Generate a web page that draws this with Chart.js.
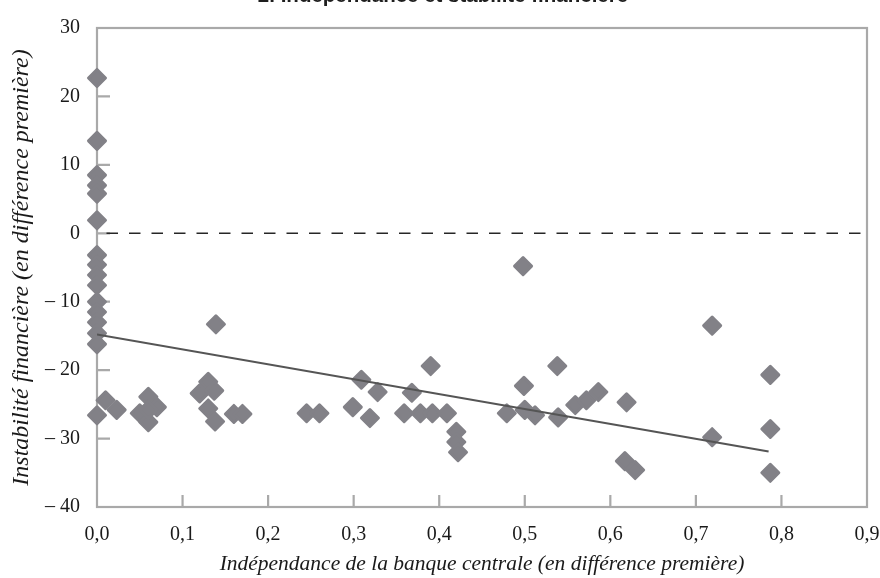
<!DOCTYPE html>
<html lang="fr">
<head>
<meta charset="utf-8">
<title>Indépendance et stabilité financière</title>
<script src="https://cdn.jsdelivr.net/npm/chart.js@4/dist/chart.umd.min.js"></script>
<style>
  html, body { margin: 0; padding: 0; background: #ffffff; overflow: hidden; }
  #wrap { position: absolute; left: 0; top: -20px; width: 880px; height: 598px; }
</style>
</head>
<body>
<div id="wrap"><canvas id="chart" width="880" height="598"></canvas></div>
<script>
// Variation de l'indépendance de la banque centrale (axe x)
const independence = [
  0, 0, 0, 0, 0, 0, 0, 0, 0, 0, 0, 0, 0, 0, 0, 0, 0.01, 0.023,
  0.06, 0.05, 0.06, 0.07, 0.06,
  0.13, 0.12, 0.137, 0.13, 0.138, 0.16, 0.17, 0.139,
  0.245, 0.26,
  0.299, 0.309, 0.319, 0.328,
  0.359, 0.368, 0.378, 0.392, 0.39, 0.409, 0.42, 0.42, 0.422,
  0.479, 0.5, 0.512, 0.498, 0.499, 0.538, 0.539,
  0.559, 0.572, 0.586,
  0.619, 0.617, 0.629,
  0.719, 0.719,
  0.787, 0.787, 0.787
];
// Variation de l'instabilité financière (axe y)
const instability = [
  22.7, 13.5, 8.5, 7.0, 5.8, 1.9, -3.2, -4.6, -6.1, -7.6, -10, -11.5, -13, -14.6, -16.2, -26.6, -24.4, -25.8,
  -23.9, -26.3, -27.6, -25.4, -25.8,
  -21.7, -23.4, -23.0, -25.6, -27.5, -26.4, -26.4, -13.3,
  -26.3, -26.3,
  -25.4, -21.4, -27.0, -23.2,
  -26.3, -23.3, -26.3, -26.3, -19.4, -26.3, -29.0, -30.5, -32.0,
  -26.3, -25.8, -26.6, -4.8, -22.3, -19.4, -26.9,
  -25.1, -24.4, -23.2,
  -24.7, -33.3, -34.6,
  -13.5, -29.8,
  -20.7, -28.6, -35.0
];
// Droite de tendance (extrémités)
const trendX = [0, 0.785];
const trendY = [-14.8, -31.9];
// Ligne de référence à zéro
const zeroX = [0, 0.9];
const zeroY = [0, 0];
// Libellés des graduations
const xTickLabels = ['0,0', '0,1', '0,2', '0,3', '0,4', '0,5', '0,6', '0,7', '0,8', '0,9'];
const yTickLabels = ['\u2013 40', '\u2013 30', '\u2013 20', '\u2013 10', '0', '10', '20', '30'];

const toPoints = (xs, ys) => xs.map((x, i) => ({ x: x, y: ys[i] }));

const FRAME = '#a9a9a9';
const SERIF = "'Liberation Serif', 'Times New Roman', serif";

// Cadre gris et graduations tournées vers l'intérieur
const framePlugin = {
  id: 'frame',
  beforeDatasetsDraw(chart) {
    const { ctx, chartArea: a, scales } = chart;
    ctx.save();
    ctx.strokeStyle = FRAME;
    ctx.lineWidth = 2.2;
    ctx.strokeRect(a.left, a.top, a.right - a.left, a.bottom - a.top);
    ctx.beginPath();
    scales.x.ticks.forEach(t => {
      const px = scales.x.getPixelForValue(t.value);
      if (px > a.left + 2 && px < a.right - 2) {
        ctx.moveTo(px, a.bottom);
        ctx.lineTo(px, a.bottom - 12);
      }
    });
    scales.y.ticks.forEach(t => {
      const py = scales.y.getPixelForValue(t.value);
      if (py > a.top + 2 && py < a.bottom - 2) {
        ctx.moveTo(a.left, py);
        ctx.lineTo(a.left + 13, py);
      }
    });
    ctx.stroke();
    ctx.restore();
  },
  beforeDatasetDraw(chart) {
    // coins arrondis pour les losanges
    chart.ctx.lineJoin = 'round';
  }
};

new Chart(document.getElementById('chart'), {
  type: 'scatter',
  data: {
    datasets: [
      {
        label: 'zéro',
        data: toPoints(zeroX, zeroY),
        showLine: true,
        borderColor: '#262626',
        borderWidth: 1.4,
        borderDash: [11.5, 11],
        borderDashOffset: 13,
        pointRadius: 0,
        order: 3
      },
      {
        label: 'pays',
        data: toPoints(independence, instability),
        pointStyle: 'rectRot',
        pointRadius: 8.5,
        pointBackgroundColor: '#828187',
        pointBorderColor: '#828187',
        pointBorderWidth: 3,
        clip: false,
        order: 2
      },
      {
        label: 'tendance',
        data: toPoints(trendX, trendY),
        showLine: true,
        borderColor: '#555555',
        borderWidth: 2,
        pointRadius: 0,
        order: 1
      }
    ]
  },
  options: {
    responsive: false,
    animation: false,
    devicePixelRatio: 1,
    layout: { padding: { top: 0, right: 0, bottom: 0, left: 6 } },
    plugins: {
      legend: { display: false },
      tooltip: { enabled: false },
      title: {
        display: true,
        text: '2. Indépendance et stabilité financière',
        color: '#1e1e1e',
        font: { family: "'Liberation Sans', Arial, sans-serif", size: 20.5, weight: 'bold', lineHeight: 1.2 },
        padding: { top: 4, bottom: 19.4 }
      }
    },
    scales: {
      x: {
        type: 'linear',
        min: 0,
        max: 0.9,
        afterFit(scale) {
          scale.height = 71;
          scale.paddingLeft = 0;
          scale.paddingRight = 13;
        },
        ticks: {
          stepSize: 0.1,
          padding: 16,
          color: '#1a1a1a',
          font: { family: SERIF, size: 20 },
          maxRotation: 0,
          callback: (v, i) => xTickLabels[i]
        },
        grid: { display: false, drawTicks: false },
        border: { display: false },
        title: {
          display: true,
          text: 'Indépendance de la banque centrale (en différence première)',
          color: '#1a1a1a',
          font: { family: SERIF, size: 21.5, style: 'italic', lineHeight: 1.2 },
          padding: { top: 0, bottom: 1 }
        }
      },
      y: {
        type: 'linear',
        min: -40,
        max: 30,
        afterFit(scale) { scale.width = 91; },
        ticks: {
          stepSize: 10,
          padding: 17,
          color: '#1a1a1a',
          font: { family: SERIF, size: 20 },
          callback: (v, i) => yTickLabels[i]
        },
        grid: { display: false, drawTicks: false },
        border: { display: false },
        title: {
          display: true,
          text: 'Instabilité financière (en différence première)',
          color: '#1a1a1a',
          font: { family: SERIF, size: 24, style: 'italic', lineHeight: 1.2 },
          padding: { top: 1.6, bottom: 0 }
        }
      }
    }
  },
  plugins: [framePlugin]
});
</script>
</body>
</html>
